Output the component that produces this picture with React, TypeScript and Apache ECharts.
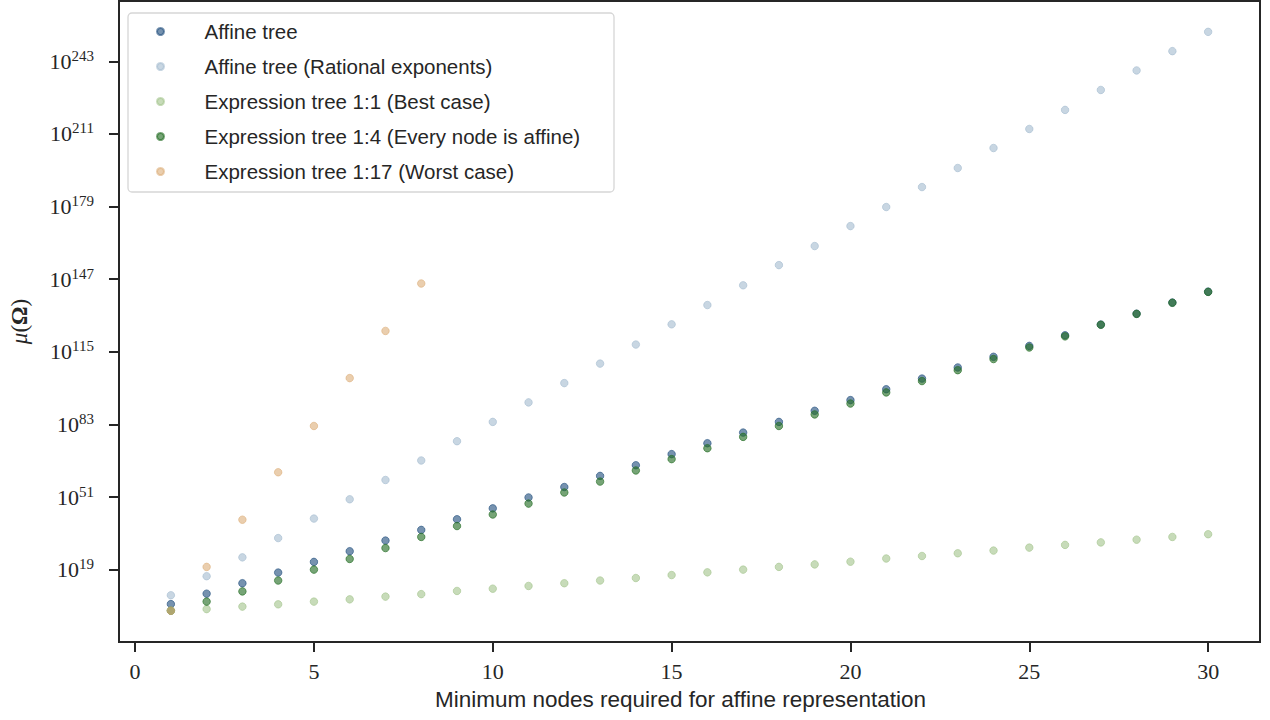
import React, { useEffect, useRef } from "react";
import * as echarts from "echarts";

// x values (minimum nodes)
const nodes = [1, 2, 3, 4, 5, 6, 7, 8, 9, 10, 11, 12, 13, 14, 15, 16, 17, 18, 19, 20, 21, 22, 23, 24, 25, 26, 27, 28, 29, 30];
const nodesWorst = [1, 2, 3, 4, 5, 6, 7, 8];

// log10 of mu(Omega) for each series
const affineTree = [3.8, 8.4, 13.0, 17.7, 22.4, 27.1, 31.8, 36.5, 41.2, 46.0, 50.8, 55.4, 60.3, 65.0, 69.9, 74.7, 79.4, 84.1, 89.0, 93.7, 98.5, 103.2, 108.1, 112.8, 117.6, 122.3, 127.0, 131.8, 136.7, 141.5];
const affineRational = [7.7, 16.1, 24.4, 32.9, 41.5, 50.0, 58.5, 67.1, 75.6, 84.1, 92.7, 101.2, 109.8, 118.2, 127.1, 135.6, 144.3, 153.2, 161.6, 170.4, 178.8, 187.6, 196.0, 204.8, 213.2, 221.6, 230.4, 239.0, 247.5, 256.0];
const exprBest = [0.9, 1.6, 2.7, 3.7, 4.9, 5.9, 7.1, 8.2, 9.6, 10.6, 11.8, 13.0, 14.2, 15.3, 16.6, 17.8, 19.0, 20.2, 21.3, 22.5, 23.9, 25.0, 26.2, 27.4, 28.7, 29.9, 31.0, 32.2, 33.4, 34.6];
const exprAffine = [0.9, 4.9, 9.4, 14.2, 19.0, 23.7, 28.5, 33.4, 38.2, 43.3, 48.1, 53.0, 57.8, 62.7, 67.7, 72.5, 77.5, 82.3, 87.4, 92.2, 97.1, 102.1, 106.9, 111.8, 116.9, 121.8, 126.9, 131.7, 136.6, 141.4];
const exprWorst = [0.9, 20.2, 41.0, 61.9, 82.3, 103.4, 124.2, 145.1];

const seriesNames = [
  "Affine tree",
  "Affine tree (Rational exponents)",
  "Expression tree 1:1 (Best case)",
  "Expression tree 1:4 (Every node is affine)",
  "Expression tree 1:17 (Worst case)",
];
const seriesColors = [
  "rgba(35,80,126,0.78)",
  "rgba(166,190,209,0.78)",
  "rgba(165,197,142,0.78)",
  "rgba(35,109,36,0.78)",
  "rgba(221,176,125,0.78)",
];

const xTicks = [0, 5, 10, 15, 20, 25, 30];
const yTickExponents = [19, 51, 83, 115, 147, 179, 211, 243];

const INK = "#262626";
const SERIF = "'Liberation Serif', 'DejaVu Serif', serif";
const SANS = "'Liberation Sans', 'Noto Sans', sans-serif";

export default function App() {
  const ref = useRef<HTMLDivElement>(null);

  useEffect(() => {
    if (!ref.current) return;
    const chart = echarts.init(ref.current, null, { renderer: "svg" });

    const xsList = [nodes, nodes, nodes, nodes, nodesWorst];
    const ysList = [affineTree, affineRational, exprBest, exprAffine, exprWorst];

    const series = seriesNames.map((name, i) => ({
      name,
      type: "scatter",
      symbol: "circle",
      symbolSize: 7.5,
      data: xsList[i].map((x, k) => [x, ysList[i][k]]),
      itemStyle: { color: seriesColors[i], borderColor: seriesColors[i], borderWidth: 1 },
      z: 2 + i,
    }));

    chart.setOption({
      animation: false,
      backgroundColor: "#ffffff",
      grid: {
        left: 117,
        right: 10,
        top: 1,
        bottom: 78,
        show: true,
        borderColor: INK,
        borderWidth: 2,
        containLabel: false,
      },
      graphic: [
        {
          type: "rect",
          shape: { x: 128, y: 13, width: 486, height: 179, r: 4 },
          style: { fill: "rgba(255,255,255,0.85)", stroke: "#d6d6d6", lineWidth: 1.3 },
          z: 10,
        },
      ],
      legend: {
        orient: "vertical",
        left: 156,
        top: 21,
        padding: 0,
        itemWidth: 8,
        itemHeight: 7,
        itemGap: 14,
        icon: "circle",
        z: 20,
        data: seriesNames,
        textStyle: { fontSize: 20.5, lineHeight: 20, fontFamily: SANS, color: INK, padding: [0, 0, 0, 35] },
      },
      xAxis: {
        type: "value",
        min: -0.45,
        max: 31.45,
        name: "Minimum nodes required for affine representation",
        nameLocation: "middle",
        nameGap: 46,
        nameTextStyle: { fontSize: 22.5, fontFamily: SANS, color: INK, padding: [0, 18, 0, 0] },
        axisLine: { show: true, onZero: false, lineStyle: { color: INK, width: 2 } },
        axisTick: { show: true, length: 10, lineStyle: { color: INK, width: 2 }, customValues: xTicks },
        axisLabel: {
          customValues: xTicks,
          fontSize: 22,
          fontFamily: SERIF,
          color: INK,
          margin: 18,
        },
        splitLine: { show: false },
      },
      yAxis: {
        type: "value",
        min: -12.9,
        max: 269.6,
        name: "{i|μ}{n|(}{b|Ω}{n|)}",
        nameLocation: "middle",
        nameGap: 88,
        nameRotate: 90,
        nameTextStyle: {
          fontSize: 23,
          fontFamily: SERIF,
          color: INK,
          rich: {
            i: { fontSize: 23, fontFamily: SERIF, fontStyle: "italic", color: INK },
            n: { fontSize: 23, fontFamily: SERIF, color: INK },
            b: { fontSize: 23, fontFamily: SERIF, fontWeight: "bold", color: INK },
          },
        },
        axisLine: { show: true, onZero: false, lineStyle: { color: INK, width: 2 } },
        axisTick: { show: true, length: 10, lineStyle: { color: INK, width: 2 }, customValues: yTickExponents },
        axisLabel: {
          customValues: yTickExponents,
          margin: 25,
          formatter: (v: number) => `{b|10}{s|${Math.round(v)}}`,
          rich: {
            b: { fontSize: 22, lineHeight: 26, fontFamily: SERIF, color: INK, verticalAlign: "middle" },
            s: { fontSize: 15, lineHeight: 12, fontFamily: SERIF, color: INK, verticalAlign: "top" },
          },
        },
        splitLine: { show: false },
      },
      series,
    });

    return () => chart.dispose();
  }, []);

  return (
    <div
      ref={ref}
      style={{ position: "fixed", left: 0, top: 0, width: 1270, height: 720, background: "#fff" }}
    />
  );
}
